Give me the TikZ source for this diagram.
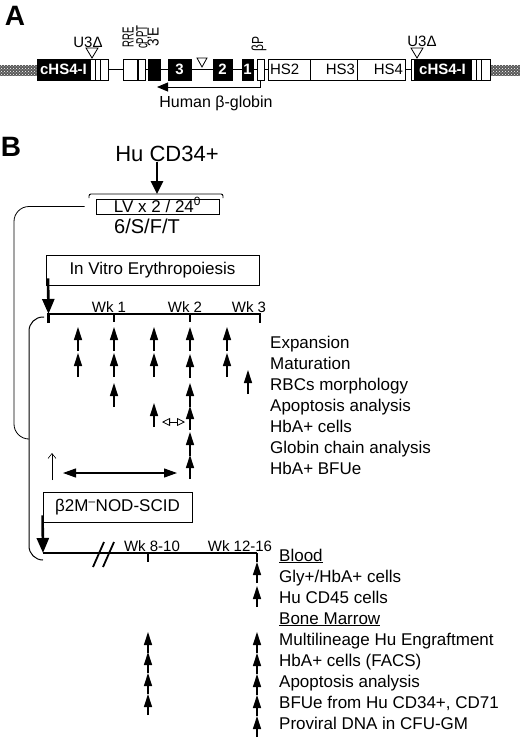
\documentclass[tikz,border=0pt]{standalone}
\usepackage{fontspec}
\setmainfont{Liberation Sans}
\usepackage{tikz}
\usetikzlibrary{arrows.meta,patterns,positioning}

\newcommand{\fs}[1]{\fontsize{#1}{#1}\selectfont}

\tikzset{
  seg/.style={draw, line width=0.8pt, fill=white, inner sep=0pt, minimum height=21pt},
  exon/.style={seg, fill=black, text=white, font=\fs{15}\bfseries},
  hsbox/.style={seg, font=\fs{15}, inner xsep=2pt},
  vlab/.style={rotate=90, anchor=west, inner sep=0pt, font=\fs{16}},
  ltrend/.style={fill=black!65, postaction={pattern=crosshatch dots, pattern color=white}},
  upmark/.style={line width=1.2pt, -{Triangle[width=8pt,length=13pt]}},
  bigarrow/.style={line width=2.6pt, -{Triangle[width=12pt,length=15pt]}},
  timeline/.style={line width=2.4pt},
  tlbox/.style={draw, line width=0.9pt, inner sep=0pt, minimum height=30pt, font=\fs{17}},
  rowlab/.style={anchor=base west, inner sep=0pt, font=\fs{17}},
  wklab/.style={anchor=base, inner sep=0pt, font=\fs{15}},
}

\begin{document}
\begin{tikzpicture}[x=1pt, y=-1pt]
    \useasboundingbox (0,0) rectangle (520,739);

    % ---- panel A : vector
    \node[font=\fs{28}\bfseries] (pa) at (15,16) {A};
    \fill[ltrend] (0,65) rectangle (37,76);
    \fill[ltrend] (490,65) rectangle (520,76);
    \draw[line width=0.8pt] (108,69.5) -- (411,69.5);

    \node[exon, minimum width=53pt] (lcore) at (63.5,69.5) {cHS4-I};
    \foreach \a/\b in {90/95,95/100,100/108,411/414,471/476,476/481,481/490}
        \draw[line width=0.8pt, fill=white] (\a,59) rectangle (\b,80);
    \node[exon, minimum width=57pt] (rcore) at (442.5,69.5) {cHS4-I};

    \node[seg, minimum width=14pt] (rre) at (130,69.5) {};
    \node[seg, minimum width=7pt] (cppt) at (141.5,69.5) {};
    \node[exon, minimum width=12pt] (te) at (154,69.5) {};
    \node[exon, minimum width=23pt] (ex3) at (179.5,69.5) {3};
    \node[exon, minimum width=19pt] (ex2) at (222.5,69.5) {2};
    \node[exon, minimum width=11pt] (ex1) at (247.5,69.5) {1};
    \node[seg, minimum width=7pt] (bp) at (260.5,69.5) {};
    \node[hsbox, text width=38pt, align=left] (hs2) at (289,69.5) {HS2};
    \node[hsbox, text width=43pt, align=right] (hs3) at (333.5,69.5) {HS3};
    \node[hsbox, text width=44pt, align=right] (hs4) at (381,69.5) {HS4};

    % deletions
    \draw[line width=0.8pt, fill=white] (86,48) -- (98,48) -- (92,58) -- cycle;
    \draw[line width=0.8pt, fill=white] (411,48) -- (423,48) -- (417,58) -- cycle;
    \draw[line width=0.8pt, fill=white] (197,58) -- (207,58) -- (202,67) -- cycle;
    \node[font=\fs{15}, inner sep=0pt] (u3l) at (88,42) {U3Δ};
    \node[font=\fs{15}, inner sep=0pt] (u3r) at (422,41) {U3Δ};

    \node[vlab] (lrre) at (128,48) {\scalebox{0.6}[1]{RRE}};
    \node[vlab] (lcppt) at (142,49) {\scalebox{0.6}[1]{cPPT}};
    \node[vlab] (lte) at (153,47) {\scalebox{0.85}[1]{3'E}};
    \node[vlab] (lbp) at (259,52) {\scalebox{0.75}[1]{βP}};

    \coordinate (hbg) at (157,87);
    \draw[line width=0.9pt, -{Triangle[width=9pt,length=11pt]}] (bp.south) |- (hbg);
    \node[font=\fs{16}, inner sep=0pt] (hbgl) at (216,103) {Human β-globin};

    % ---- panel B : protocol
    \node[font=\fs{28}\bfseries] (pb) at (11,147) {B};
    \node[font=\fs{22}, inner sep=0pt] (hu) at (167,154) {Hu CD34+};
    \coordinate (brk) at (157,194);
    \draw[line width=0.9pt, rounded corners=2pt] (89,198) -- (89,194) -- (223,194) -- (223,198);
    \draw[line width=2.6pt, -{Triangle[width=12pt,length=13pt]}] (hu.south -| brk) -- (brk);
    \node[draw, line width=0.9pt, inner sep=0pt, minimum width=123pt, text height=13pt, text depth=2pt,
          font=\fs{17}] (lv) at (157.5,206.5) {LV x 2 / 24\textsuperscript{0}};
    \node[font=\fs{20}, inner sep=0pt] (cyt) at (147,226) {6/S/F/T};
    \coordinate (ivend) at (27,439);
    \draw[line width=0.8pt, rounded corners=15pt] ([xshift=-11pt]lv.west) -| (14,439) -- (ivend);

    % in vitro
    \node[tlbox, minimum width=213pt] (ive) at (152.5,270) {In Vitro Erythropoiesis};
    \coordinate (t1a) at (48.5,314);
    \coordinate (t1b) at (260,314);
    \draw[bigarrow] ([xshift=2.5pt,yshift=7pt]ive.south west) -- (t1a);
    \draw[timeline] ([yshift=-9pt]t1a) -- (t1a) -- (t1b) -- ([yshift=-9pt]t1b);
    \draw[line width=1.4pt] (114,314) -- (114,322) (190,314) -- (190,322);
    \node[wklab] (wk1) at (109,312) {Wk 1};
    \node[wklab] (wk2) at (185,312) {Wk 2};
    \node[wklab] (wk3) at (249,312) {Wk 3};
    \draw[line width=1pt, rounded corners=14pt] (44,317) -- (29,317) -- (29,560) -- (43,560);

    \foreach \txt [count=\i from 0] in {Expansion, Maturation, RBCs morphology, Apoptosis analysis,
        HbA+ cells, Globin chain analysis, HbA+ BFUe}
        \node[rowlab] (iv\i) at (270,348+21*\i) {\txt};

    \foreach \x/\t in {78/327,78/353,114/327,114/353,114/383,154/327,154/353,154/403,
        190/327,190/354,190/383,190/406,190/432,190/455,227/327,227/353,248/370}
        \draw[upmark] (\x,\t+24) -- (\x,\t);
    \draw[line width=0.8pt, {Triangle[open,width=8pt,length=8pt]}-{Triangle[open,width=8pt,length=8pt]}]
        (162,422) -- (185,422);
    \draw[line width=0.6pt, -{Straight Barb[length=5pt,width=8pt]}] (52,480) -- (52,453);
    \draw[line width=1.2pt, {Triangle[width=9pt,length=13pt]}-{Triangle[width=9pt,length=13pt]}]
        (63,473) -- (177,473);

    % in vivo
    \node[tlbox, minimum width=149pt] (b2m) at (117.5,507) {β2M\textsuperscript{–}NOD-SCID};
    \coordinate (t2a) at (43,553);
    \coordinate (t2b) at (257,553);
    \draw[bigarrow] ([yshift=7pt]b2m.south west) -- (t2a);
    \draw[timeline, line width=2.2pt] (t2a) -- (t2b);
    \draw[line width=1.2pt] (148,553) -- (148,562) (t2b) -- ++(0,9);
    \draw[line width=1.8pt] (93,567) -- (104,542) (103,567) -- (114,542);
    \node[wklab] (wk8) at (152,551) {Wk 8-10};
    \node[wklab] (wk12) at (240,551) {Wk 12-16};

    \foreach \txt [count=\i from 0] in {\underline{Blood}, Gly+/HbA+ cells, Hu CD45 cells, \underline{Bone Marrow},
        Multilineage Hu Engraftment, HbA+ cells (FACS), Apoptosis analysis,
        {BFUe from Hu CD34+, CD71}, Proviral DNA in CFU-GM}
        \node[rowlab] (nod\i) at (279,561+21*\i) {\txt};

    \foreach \x/\t in {148/632,148/652,148/673,148/694,257/562,257/586,
        257/632,257/653,257/674,257/695,257/716}
        \draw[upmark] (\x,\t+21) -- (\x,\t);
\end{tikzpicture}
\end{document}
